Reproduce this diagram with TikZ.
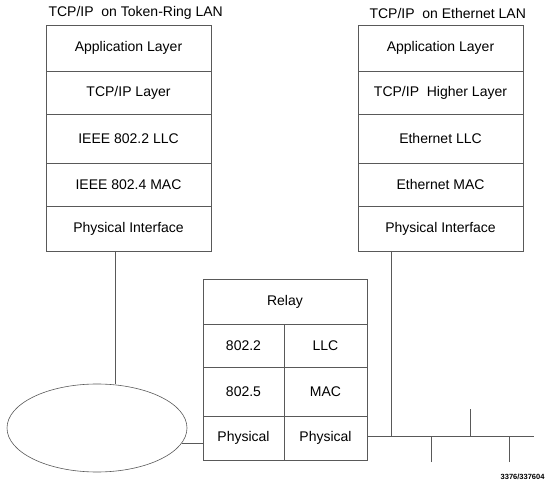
\documentclass[tikz,border=0pt]{standalone}
\usepackage{fontspec}
\setmainfont{Liberation Sans}
\usepackage{tikz}
\usetikzlibrary{shapes.geometric}

\begin{document}
\begin{tikzpicture}[x=1pt, y=-1pt,
	every node/.style={font=\fontsize{14}{16}\selectfont},
	layer/.style={shape=rectangle, draw=black!65, line width=0.7pt, inner sep=0pt, minimum width=165pt},
	cell/.style={shape=rectangle, draw=black!65, line width=0.7pt, inner sep=0pt},
	wire/.style={draw=black!65, line width=0.7pt}]

	\useasboundingbox (0, 0) rectangle (555, 484);

	% token-ring station
	\node[anchor=west] (ltitle) at (45, 13)     {TCP/IP\ \ on Token-Ring LAN};
	\node[layer, minimum height=46pt] (lapp) at (128.5, 48)     {Application Layer};
	\node[layer, minimum height=43pt] (ltcp) at (128.5, 92.5)   {TCP/IP Layer};
	\node[layer, minimum height=49pt] (lllc) at (128.5, 138.5)  {IEEE 802.2 LLC};
	\node[layer, minimum height=43pt] (lmac) at (128.5, 184.5)  {IEEE 802.4 MAC};
	\node[layer, minimum height=45pt] (lphy) at (128.5, 228.5)  {Physical Interface};

	% ethernet station
	\node[anchor=west] (rtitle) at (366, 13)     {TCP/IP\ \ on Ethernet LAN};
	\node[layer, minimum height=46pt] (rapp) at (440.5, 48)     {Application Layer};
	\node[layer, minimum height=43pt] (rtcp) at (440.5, 92.5)   {TCP/IP\ \ Higher Layer};
	\node[layer, minimum height=49pt] (rllc) at (440.5, 138.5)  {Ethernet LLC};
	\node[layer, minimum height=43pt] (rmac) at (440.5, 184.5)  {Ethernet MAC};
	\node[layer, minimum height=45pt] (rphy) at (440.5, 228.5)  {Physical Interface};

	% relay
	\node[cell, minimum width=164pt, minimum height=45pt] (relay) at (285, 301.5)   {Relay};
	\node[cell, minimum width=81pt, minimum height=43pt] (r22) at (243.5, 345.5)    {802.2};
	\node[cell, minimum width=83pt, minimum height=43pt] (rllcx) at (325.5, 345.5)  {LLC};
	\node[cell, minimum width=81pt, minimum height=49pt] (r25) at (243.5, 391.5)    {802.5};
	\node[cell, minimum width=83pt, minimum height=49pt] (rmacx) at (325.5, 391.5)  {MAC};
	\node[cell, minimum width=81pt, minimum height=44pt] (rphyl) at (243.5, 438)    {Physical};
	\node[cell, minimum width=83pt, minimum height=44pt] (rphyr) at (325.5, 438)    {Physical};

	% token ring
	\node[shape=ellipse, draw=black!65, line width=0.6pt, minimum width=180pt, minimum height=88pt] (ring) at (97, 428) {};

	% ethernet bus
	\coordinate (ltap) at (115, 251);
	\coordinate (rtap) at (391, 251);
	\coordinate (bus) at (534, 436);
	\coordinate (t1) at (431, 462);
	\coordinate (t2) at (470, 409);
	\coordinate (t3) at (509, 462);

	\node[anchor=east, font=\bfseries\fontsize{7.5}{9}\selectfont] (fig) at (548, 477) {3376/337604};

	\path[wire] (ltap) -- (ltap |- ring.north);
	\path[wire] (ring.-10) -- (ring.-10 -| rphyl.west);
	\path[wire] (rphyr.east |- bus) -- (bus);
	\path[wire] (rtap) -- (rtap |- bus);
	\path[wire] (t1) -- (t1 |- bus);
	\path[wire] (t2) -- (t2 |- bus);
	\path[wire] (t3) -- (t3 |- bus);
\end{tikzpicture}
\end{document}
